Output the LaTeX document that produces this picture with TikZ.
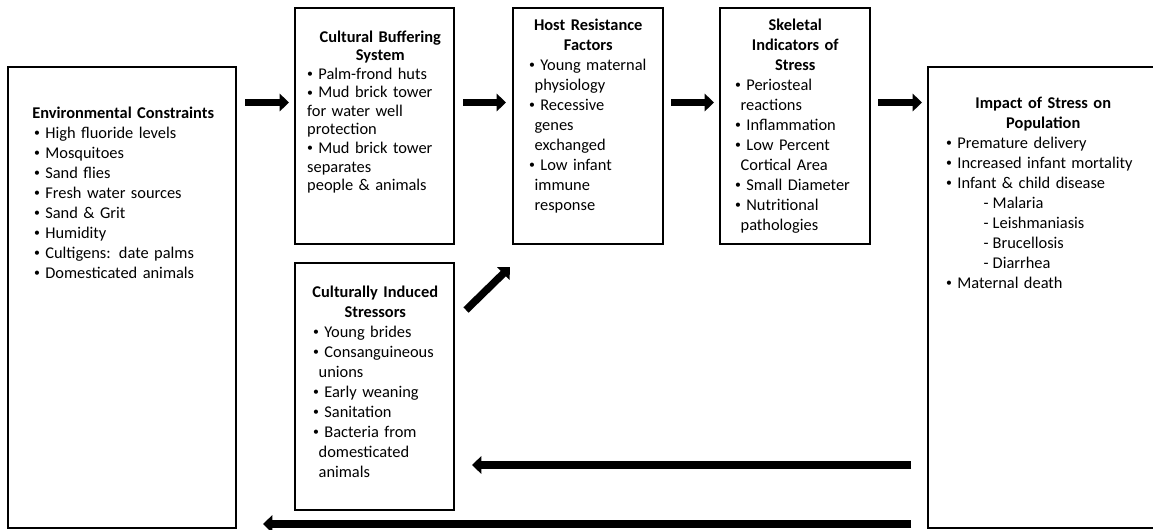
\documentclass[tikz,border=0pt]{standalone}
\usepackage{fontspec}
\setmainfont{Carlito}
\usepackage{tikz}
\usetikzlibrary{arrows.meta, calc}

\newcommand{\bulletdot}{\raisebox{0.1em}{\scalebox{0.72}{\textbullet}}}
\newcommand{\bul}[1]{\mbox{\hspace{0.12em}\bulletdot\hspace{0.32em}#1}}
\newcommand{\cnt}[2][0.45em]{\mbox{\hspace{#1}#2}}
\newcommand{\dsh}[1]{\mbox{\hspace{2.4em}-\hspace{0.25em}#1}}

\tikzset{
  box/.style={draw, line width=1.9pt, inner sep=0pt, outer sep=0pt, anchor=north west},
  txt/.style={inner sep=0pt, anchor=north west, align=left,
    font=\fontsize{12.3pt}{15pt}\selectfont},
  fat/.style={line width=5.6pt, -{Triangle[width=13pt,length=7pt]}}
}

\begin{document}
\begin{tikzpicture}[x=0.75pt, y=-0.75pt]
    \useasboundingbox (0,0) rectangle (1153,529);
    \clip (0,0) rectangle (1153,529);
    % boxes
    \node[box, minimum width=171pt, minimum height=345.75pt] (env) at (8,67){};
    \node[box, minimum width=119.25pt, minimum height=177pt] (cb) at (295,8){};
    \node[box, minimum width=112.5pt, minimum height=177pt] (host) at (513,8){};
    \node[box, minimum width=112.5pt, minimum height=177pt] (skel) at (720,8){};
    \node[box, minimum width=180pt, minimum height=345.75pt] (imp) at (928,67){};
    \node[box, minimum width=119.25pt, minimum height=185.25pt] (ci) at (295,263){};
    % texts
    \node[txt, text width=150pt] (envtxt) at (32,106.5){{\bfseries Environmental Constraints}\\
      \bul{High fluoride levels}\\ \bul{Mosquitoes}\\ \bul{Sand flies}\\
      \bul{Fresh water sources}\\ \bul{Sand \& Grit}\\ \bul{Humidity}\\
      \bul{Cultigens: date palms}\\ \bul{Domesticated animals}};
    \node[txt, text width=112.5pt, font=\fontsize{12.3pt}{13.9pt}\selectfont] (cbtxt) at (305,30.5){{\centering\bfseries Cultural Buffering\\System\par}
      \bul{Palm-frond huts}\\ \bul{Mud brick tower}\\ \cnt[0.12em]{for water well}\\ \cnt[0.12em]{protection}\\
      \bul{Mud brick tower}\\ \cnt[0.12em]{separates}\\ \cnt[0.12em]{people \& animals}};
    \node[txt, text width=91.5pt] (hosttxt) at (527,18.5){{\centering\bfseries \mbox{Host Resistance}\\Factors\par}
      \bul{Young maternal}\\ \cnt{physiology}\\ \bul{Recessive}\\ \cnt{genes}\\ \cnt{exchanged}\\
      \bul{Low infant}\\ \cnt{immune}\\ \cnt{response}};
    \node[txt, text width=93pt] (skeltxt) at (733,18.5){{\centering\bfseries Skeletal\\\mbox{Indicators of}\\Stress\par}
      \bul{Periosteal}\\ \cnt{reactions}\\ \bul{Inflammation}\\ \bul{Low Percent}\\ \cnt{Cortical Area}\\
      \bul{Small Diameter}\\ \bul{Nutritional}\\ \cnt{pathologies}};
    \node[txt, text width=148.5pt] (imptxt) at (944,96.5){{\centering\bfseries \mbox{Impact of Stress on}\\Population\par}
      \bul{Premature delivery}\\ \bul{Increased infant mortality}\\ \bul{Infant \& child disease}\\
      \dsh{Malaria}\\ \dsh{Leishmaniasis}\\ \dsh{Brucellosis}\\ \dsh{Diarrhea}\\ \bul{Maternal death}};
    \node[txt, text width=96pt] (citxt) at (311,285.5){{\centering\bfseries \mbox{Culturally Induced}\\Stressors\par}
      \bul{Young brides}\\ \bul{Consanguineous}\\ \cnt{unions}\\ \bul{Early weaning}\\ \bul{Sanitation}\\
      \bul{Bacteria from}\\ \cnt{domesticated}\\ \cnt{animals}};
    % arrows
    \draw[fat] ($(env.east|-0,102.5)+(9,0)$) -- ($(cb.west|-0,102.5)+(-6,0)$);
    \draw[fat] ($(cb.east|-0,102.5)+(9,0)$) -- ($(host.west|-0,102.5)+(-7,0)$);
    \draw[fat] ($(host.east|-0,102.5)+(8,0)$) -- ($(skel.west|-0,102.5)+(-6,0)$);
    \draw[fat] ($(skel.east|-0,102.5)+(8,0)$) -- ($(imp.west|-0,102.5)+(-6,0)$);
    \draw[fat] ($(ci.north east)+(12,47)$) -- ($(host.south west)+(-3,23)$);
    \draw[fat] ($(imp.west|-0,465)+(-17,0)$) -- ($(ci.east|-0,465)+(18,0)$);
    \draw[fat] ($(imp.west|-0,524)+(-17,0)$) -- ($(env.east|-0,524)+(27,0)$);
\end{tikzpicture}
\end{document}
